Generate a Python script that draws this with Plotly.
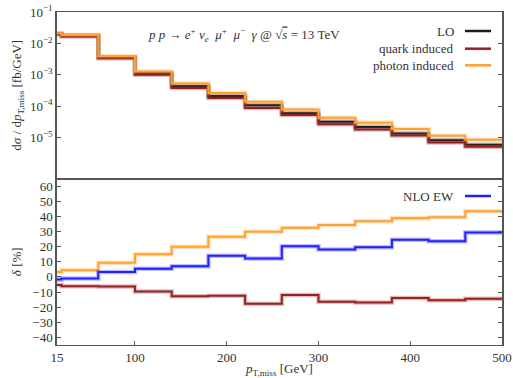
import plotly.graph_objects as go
from plotly.subplots import make_subplots

# ---- data ----
bin_edges = [15, 20, 60, 100, 140, 180, 220, 260, 300, 340, 380, 420, 460, 500]
lo = [0.0204, 0.0177, 0.0036, 0.00112, 0.00044, 0.00021, 0.000107, 6.0e-5, 3.2e-5, 2.2e-5, 1.36e-5, 8.3e-6, 6.0e-6]
quark_induced = [0.01932, 0.0166, 0.00337, 0.00101, 0.000384, 0.000184, 8.81e-5, 5.29e-5, 2.68e-5, 1.83e-5, 1.17e-5, 7.0e-6, 5.14e-6]
photon_induced = [0.02107, 0.01848, 0.003935, 0.001288, 0.000528, 0.000266, 0.000139, 7.94e-5, 4.29e-5, 3.01e-5, 1.89e-5, 1.157e-5, 8.6e-6]
delta_quark = [-5.3, -6.2, -6.3, -9.7, -12.8, -12.4, -17.7, -11.9, -16.4, -17.0, -13.9, -15.5, -14.4]
delta_photon = [3.3, 4.4, 9.3, 15.0, 19.9, 26.5, 29.8, 32.4, 34.2, 36.8, 38.8, 39.4, 43.4]
delta_nlo_ew = [-1.8, -1.1, 3.3, 5.3, 7.0, 13.9, 12.1, 20.3, 18.1, 19.6, 24.5, 23.6, 29.3]
x_ticks = [15, 100, 200, 300, 400, 500]
y_top_ticks = [1e-1, 1e-2, 1e-3, 1e-4, 1e-5]
y_top_labels = ["10<sup>−1</sup>", "10<sup>−2</sup>", "10<sup>−3</sup>", "10<sup>−4</sup>", "10<sup>−5</sup>"]
y_bot_ticks = list(range(-40, 61, 10))

C_LO = "#1e1e1e"
C_Q = "#962020"
C_P = "#ffa030"
C_B = "#1f1fff"
FONT = "Liberation Serif"
TXT = "#333"


def rgba(hexc, a):
    h = hexc.lstrip("#")
    r, g, b = int(h[0:2], 16), int(h[2:4], 16), int(h[4:6], 16)
    return f"rgba({r},{g},{b},{a})"


fig = make_subplots(rows=2, cols=1, shared_xaxes=True, vertical_spacing=0.0)


def add_step(vals, color, row):
    ys = list(vals) + [vals[-1]]
    fig.add_trace(go.Scatter(x=bin_edges, y=ys, mode="lines", line=dict(shape="hv", color=rgba(color, 0.3), width=4.5),
                             showlegend=False, hoverinfo="skip"), row=row, col=1)
    fig.add_trace(go.Scatter(x=bin_edges, y=ys, mode="lines", line=dict(shape="hv", color=color, width=2),
                             showlegend=False), row=row, col=1)


add_step(lo, C_LO, 1)
add_step(quark_induced, C_Q, 1)
add_step(photon_induced, C_P, 1)

fig.add_hline(y=0, line=dict(color="#222", width=1, dash="dash"), row=2, col=1)
add_step(delta_photon, C_P, 2)
add_step(delta_nlo_ew, C_B, 2)
add_step(delta_quark, C_Q, 2)

axcol = "#555"
fig.update_xaxes(range=[15, 500], showline=True, linecolor=axcol, linewidth=1.3, mirror=True,
                 showgrid=False, zeroline=False, automargin=False)
fig.update_xaxes(row=1, col=1, ticks="", showticklabels=False)
fig.update_xaxes(row=2, col=1, tickvals=x_ticks, ticktext=[str(v) for v in x_ticks], ticks="inside", ticklen=4,
                 tickcolor=axcol, tickfont=dict(family=FONT, size=13, color=TXT),
                 title=dict(text="<i>p</i><sub>T,miss</sub> [GeV]", font=dict(family=FONT, size=13, color=TXT), standoff=3))

fig.update_yaxes(row=1, col=1, type="log", range=[-6.3, -1], tickvals=y_top_ticks, ticktext=y_top_labels,
                 showline=True, linecolor=axcol, linewidth=1.5, mirror="ticks", ticks="inside", ticklen=4,
                 tickcolor=axcol, showgrid=False, zeroline=False, tickfont=dict(family=FONT, size=13, color=TXT),
                 automargin=False,
                 title=dict(text="d<i>σ</i> / d<i>p</i><sub>T,miss</sub> [fb/GeV]", font=dict(family=FONT, size=13, color=TXT), standoff=5))
fig.update_yaxes(row=2, col=1, range=[-45, 65], tickvals=y_bot_ticks, showline=True, linecolor=axcol, linewidth=1.5,
                 mirror="ticks", ticks="inside", ticklen=4, tickcolor=axcol, showgrid=False, zeroline=False,
                 tickfont=dict(family=FONT, size=13, color=TXT), automargin=False,
                 title=dict(text="<i>δ</i> [%]", font=dict(family=FONT, size=13, color=TXT), standoff=8))

# legend (text right-aligned, sample line on the right)
W, H = 513, 378
ml, mr, mt, mb = 57, 11, 12, 33
pw, ph = W - ml - mr, H - mt - mb


def px(x):
    return (x - ml) / pw


def py(y):
    return 1 - (y - mt) / ph


leg = [("LO", C_LO, 31), ("quark induced", C_Q, 48.7), ("photon induced", C_P, 65.3), ("NLO EW", C_B, 196)]
for name, col, yy in leg:
    fig.add_annotation(xref="paper", yref="paper", x=px(456), y=py(yy), text=name, showarrow=False,
                       xanchor="right", yanchor="middle", font=dict(family=FONT, size=13, color=TXT))
    fig.add_shape(type="line", xref="paper", yref="paper", x0=px(465), x1=px(491), y0=py(yy), y1=py(yy),
                  line=dict(color=col, width=2.5))

sp = "&nbsp;"
proc = ("<i>p</i>" + sp + "<i>p</i>" + sp + "→" + sp + "<i>e</i><sup>+</sup>" + sp + "<i>ν<sub>e</sub></i>" + sp + sp
        + "<i>μ</i><sup>+</sup>" + sp + sp + "<i>μ</i><sup>−</sup>" + sp + sp + "<i>γ</i>" + sp + "@" + sp
        + "√<span style='text-decoration:overline'><i>s</i></span>" + sp + "=" + sp + "13" + sp + "TeV")
fig.add_annotation(xref="paper", yref="paper", x=px(244), y=py(35), text=proc,
                   showarrow=False, xanchor="center", yanchor="middle", font=dict(family=FONT, size=13, color=TXT))

fig.update_layout(width=W, height=H, margin=dict(l=ml, r=mr, t=mt, b=mb), plot_bgcolor="white",
                  paper_bgcolor="white", showlegend=False)

fig.write_html("out.html")
